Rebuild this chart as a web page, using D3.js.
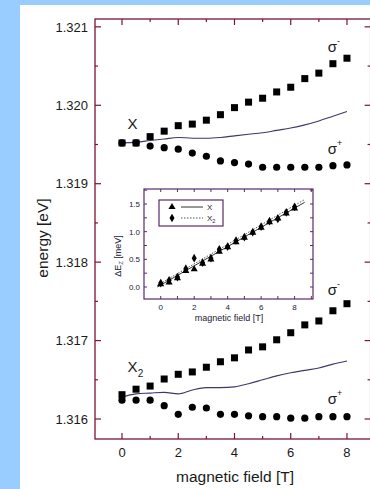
<!DOCTYPE html>
<html>
<head>
<meta charset="utf-8">
<script src="https://cdn.jsdelivr.net/npm/d3@7"></script>
<style>
  html, body { margin: 0; padding: 0; background: #9cf; }
  svg { display: block; font-family: "Liberation Sans", Arial, sans-serif; }
</style>
</head>
<body>
<svg id="chart" width="370" height="489"></svg>
<script>
// Magnetic field values (T) shared by all series
const fields = [0, 0.5, 1, 1.5, 2, 2.5, 3, 3.5, 4, 4.5, 5, 5.5, 6, 6.5, 7, 7.5, 8];

// Exciton X: sigma- / sigma+ emission energies (eV) and their mean
const xSigmaMinus = [1.31952, 1.31952, 1.31960, 1.31967, 1.31974, 1.31976, 1.31981, 1.31988, 1.31997, 1.32004, 1.32009, 1.32017, 1.32023, 1.32034, 1.32041, 1.32053, 1.32060];
const xSigmaPlus  = [1.31952, 1.31952, 1.31948, 1.31946, 1.31944, 1.31939, 1.31935, 1.31929, 1.31927, 1.31925, 1.31921, 1.31921, 1.31921, 1.31921, 1.31921, 1.31923, 1.31924];
const xMean       = [1.31952, 1.31953, 1.31955, 1.31957, 1.31959, 1.31958, 1.31958, 1.31959, 1.31961, 1.31963, 1.31965, 1.31968, 1.31971, 1.31975, 1.31980, 1.31986, 1.31992];

// Exciton X2
const x2SigmaMinus = [1.31631, 1.31638, 1.31642, 1.31651, 1.31657, 1.31660, 1.31666, 1.31673, 1.31678, 1.31688, 1.31692, 1.31701, 1.31710, 1.31720, 1.31725, 1.31738, 1.31747];
const x2SigmaPlus  = [1.31624, 1.31624, 1.31624, 1.31617, 1.31606, 1.31615, 1.31614, 1.31606, 1.31606, 1.31604, 1.31603, 1.31603, 1.31601, 1.31601, 1.31603, 1.31603, 1.31603];
const x2Mean       = [1.31628, 1.31632, 1.31633, 1.31634, 1.31632, 1.31637, 1.31640, 1.31640, 1.31641, 1.31645, 1.31650, 1.31655, 1.31659, 1.31662, 1.31665, 1.31670, 1.31674];

// Zeeman splitting (meV) for the inset
const splitX  = [0.05, 0.08, 0.16, 0.29, 0.32, 0.42, 0.50, 0.64, 0.72, 0.81, 0.89, 0.98, 1.07, 1.17, 1.24, 1.33, 1.42];
const splitX2 = [0.07, 0.12, 0.18, 0.33, 0.52, 0.44, 0.52, 0.68, 0.73, 0.84, 0.90, 0.99, 1.09, 1.19, 1.23, 1.35, 1.45];
// Linear fits through the splittings: [field, meV] end points
const fitX  = [[-0.2, 0.00], [8.6, 1.53]];
const fitX2 = [[-0.2, 0.03], [8.6, 1.58]];

// Tick labels
const energyTicks = [1.316, 1.317, 1.318, 1.319, 1.320, 1.321];
const fieldTicks = [0, 2, 4, 6, 8];
const insetYTicks = [0.0, 0.5, 1.0, 1.5];

const svg = d3.select("#chart");
const frameColor = "#7a1530";
const ink = "#1a1a1a";

// white page area
svg.append("rect").attr("x", 20).attr("y", 5).attr("width", 350).attr("height", 484).attr("fill", "#fff");

// ---------- main plot ----------
const x = d3.scaleLinear().domain([-0.96, 8.84]).range([95, 370.6]);
const y = d3.scaleLinear().domain([1.315745, 1.3211]).range([439, 19]);

const main = svg.append("g");

// frame
main.append("rect")
  .attr("x", x.range()[0]).attr("y", y.range()[1])
  .attr("width", x.range()[1] - x.range()[0]).attr("height", y.range()[0] - y.range()[1])
  .attr("fill", "none").attr("stroke", frameColor).attr("stroke-width", 1.3);

// inward ticks on all four sides
const eMinor = d3.range(1.3160, 1.32101, 0.0005);
eMinor.forEach((v, i) => {
  const len = i % 2 === 0 ? 6 : 3;
  main.append("line").attr("x1", x.range()[0]).attr("x2", x.range()[0] + len)
    .attr("y1", y(v)).attr("y2", y(v)).attr("stroke", frameColor).attr("stroke-width", 1.2);
  main.append("line").attr("x1", x.range()[1]).attr("x2", x.range()[1] - len)
    .attr("y1", y(v)).attr("y2", y(v)).attr("stroke", frameColor).attr("stroke-width", 1.2);
});
d3.range(0, 9, 1).forEach(v => {
  const len = v % 2 === 0 ? 6 : 3;
  main.append("line").attr("x1", x(v)).attr("x2", x(v))
    .attr("y1", y.range()[0]).attr("y2", y.range()[0] - len).attr("stroke", frameColor).attr("stroke-width", 1.2);
  main.append("line").attr("x1", x(v)).attr("x2", x(v))
    .attr("y1", y.range()[1]).attr("y2", y.range()[1] + len).attr("stroke", frameColor).attr("stroke-width", 1.2);
});

// tick labels
main.selectAll(".ylab").data(energyTicks).enter().append("text")
  .attr("x", 88).attr("y", d => y(d)).attr("dy", "0.36em")
  .attr("text-anchor", "end").attr("font-size", 13).attr("fill", ink)
  .text(d => d3.format(".3f")(d));
main.selectAll(".xlab").data(fieldTicks).enter().append("text")
  .attr("x", d => x(d)).attr("y", 457)
  .attr("text-anchor", "middle").attr("font-size", 13).attr("fill", ink)
  .text(d => d);

// axis titles
main.append("text").attr("x", 235).attr("y", 482).attr("text-anchor", "middle")
  .attr("font-size", 15.5).attr("fill", ink).text("magnetic field [T]");
main.append("text").attr("transform", "translate(48,238) rotate(-90)").attr("text-anchor", "middle")
  .attr("font-size", 15.5).attr("fill", ink).text("energy [eV]");

// mean lines
const line = d3.line().x(d => x(d[0])).y(d => y(d[1])).curve(d3.curveMonotoneX);
[xMean, x2Mean].forEach(arr => {
  main.append("path").datum(fields.map((f, i) => [f, arr[i]]))
    .attr("d", line).attr("fill", "none").attr("stroke", "#3a3a6a").attr("stroke-width", 1.1);
});

// square markers (sigma-)
const sq = 7;
[xSigmaMinus, x2SigmaMinus].forEach(arr => {
  main.append("g").selectAll("rect").data(fields.map((f, i) => [f, arr[i]])).enter().append("rect")
    .attr("x", d => x(d[0]) - sq / 2).attr("y", d => y(d[1]) - sq / 2)
    .attr("width", sq).attr("height", sq).attr("fill", "#000");
});
// circle markers (sigma+)
[xSigmaPlus, x2SigmaPlus].forEach(arr => {
  main.append("g").selectAll("circle").data(fields.map((f, i) => [f, arr[i]])).enter().append("circle")
    .attr("cx", d => x(d[0])).attr("cy", d => y(d[1])).attr("r", 3.6).attr("fill", "#000");
});

// series annotations
function sigma(fx, e, sign) {
  const t = main.append("text").attr("x", x(fx)).attr("y", y(e)).attr("font-size", 15).attr("fill", ink);
  t.append("tspan").text("σ");
  t.append("tspan").attr("dy", -8).attr("font-size", 9).text(sign);
}
sigma(7.32, 1.32068, "-");
sigma(7.32, 1.31938, "+");
sigma(7.32, 1.31758, "-");
sigma(7.32, 1.31619, "+");

main.append("text").attr("x", x(0.2)).attr("y", y(1.31970)).attr("font-size", 15).attr("fill", ink).text("X");
const x2t = main.append("text").attr("x", x(0.2)).attr("y", y(1.31660)).attr("font-size", 15).attr("fill", ink);
x2t.append("tspan").text("X");
x2t.append("tspan").attr("dy", 5).attr("font-size", 10).text("2");

// ---------- inset ----------
const ix = d3.scaleLinear().domain([-1.0, 9.1]).range([144, 313]);
const iy = d3.scaleLinear().domain([-0.217, 1.771]).range([299, 189]);
const inset = svg.append("g");
const insetColor = "#5a2a6a";

inset.append("rect")
  .attr("x", 144).attr("y", 189).attr("width", 169).attr("height", 110)
  .attr("fill", "#fff").attr("stroke", insetColor).attr("stroke-width", 1.2);

d3.range(0, 10, 1).forEach(v => {
  inset.append("line").attr("x1", ix(v)).attr("x2", ix(v)).attr("y1", 299).attr("y2", 296).attr("stroke", insetColor);
  inset.append("line").attr("x1", ix(v)).attr("x2", ix(v)).attr("y1", 189).attr("y2", 192).attr("stroke", insetColor);
});
d3.range(0, 1.76, 0.25).forEach(v => {
  inset.append("line").attr("x1", 144).attr("x2", 147).attr("y1", iy(v)).attr("y2", iy(v)).attr("stroke", insetColor);
  inset.append("line").attr("x1", 313).attr("x2", 310).attr("y1", iy(v)).attr("y2", iy(v)).attr("stroke", insetColor);
});

inset.selectAll(".iyl").data(insetYTicks).enter().append("text")
  .attr("x", 140).attr("y", d => iy(d)).attr("dy", "0.36em").attr("text-anchor", "end")
  .attr("font-size", 8).attr("fill", "#223").text(d => d3.format(".1f")(d));
inset.selectAll(".ixl").data(fieldTicks).enter().append("text")
  .attr("x", d => ix(d)).attr("y", 310).attr("text-anchor", "middle")
  .attr("font-size", 8).attr("fill", "#223").text(d => d);

inset.append("text").attr("x", 229).attr("y", 321).attr("text-anchor", "middle")
  .attr("font-size", 9).attr("fill", "#223").text("magnetic field [T]");
const iyt = inset.append("text").attr("transform", "translate(121,256) rotate(-90)")
  .attr("text-anchor", "middle").attr("font-size", 9).attr("fill", "#223");
iyt.append("tspan").text("ΔE");
iyt.append("tspan").attr("dy", 2).attr("font-size", 6).text("Z");
iyt.append("tspan").attr("dy", -2).text(" [meV]");

const iline = d3.line().x(d => ix(d[0])).y(d => iy(d[1]));
inset.append("path").datum(fitX).attr("d", iline).attr("fill", "none").attr("stroke", "#333").attr("stroke-width", 1);
inset.append("path").datum(fitX2).attr("d", iline).attr("fill", "none").attr("stroke", "#555")
  .attr("stroke-width", 1).attr("stroke-dasharray", "1.5,1.5");

const tri = d3.symbol().type(d3.symbolTriangle).size(22);
const dia = d3.symbol().type(d3.symbolDiamond).size(22);
inset.append("g").selectAll("path").data(fields.map((f, i) => [f, splitX2[i]])).enter().append("path")
  .attr("d", dia).attr("transform", d => `translate(${ix(d[0])},${iy(d[1])})`).attr("fill", "#000");
inset.append("g").selectAll("path").data(fields.map((f, i) => [f, splitX[i]])).enter().append("path")
  .attr("d", tri).attr("transform", d => `translate(${ix(d[0])},${iy(d[1])})`).attr("fill", "#000");

// legend
const lg = inset.append("g");
lg.append("rect").attr("x", 159).attr("y", 200).attr("width", 64).attr("height", 26)
  .attr("fill", "#fff").attr("stroke", insetColor).attr("stroke-width", 1.2);
lg.append("path").attr("d", tri).attr("transform", "translate(172,207)").attr("fill", "#000");
lg.append("path").attr("d", dia).attr("transform", "translate(172,218)").attr("fill", "#000");
lg.append("line").attr("x1", 181).attr("x2", 203).attr("y1", 207).attr("y2", 207).attr("stroke", "#333");
lg.append("line").attr("x1", 181).attr("x2", 203).attr("y1", 218).attr("y2", 218).attr("stroke", "#555")
  .attr("stroke-dasharray", "1.5,1.5");
lg.append("text").attr("x", 207).attr("y", 210).attr("font-size", 8).attr("fill", "#223").text("X");
const lx2 = lg.append("text").attr("x", 207).attr("y", 221).attr("font-size", 8).attr("fill", "#223");
lx2.append("tspan").text("X");
lx2.append("tspan").attr("dy", 2).attr("font-size", 5.5).text("2");
</script>
</body>
</html>
